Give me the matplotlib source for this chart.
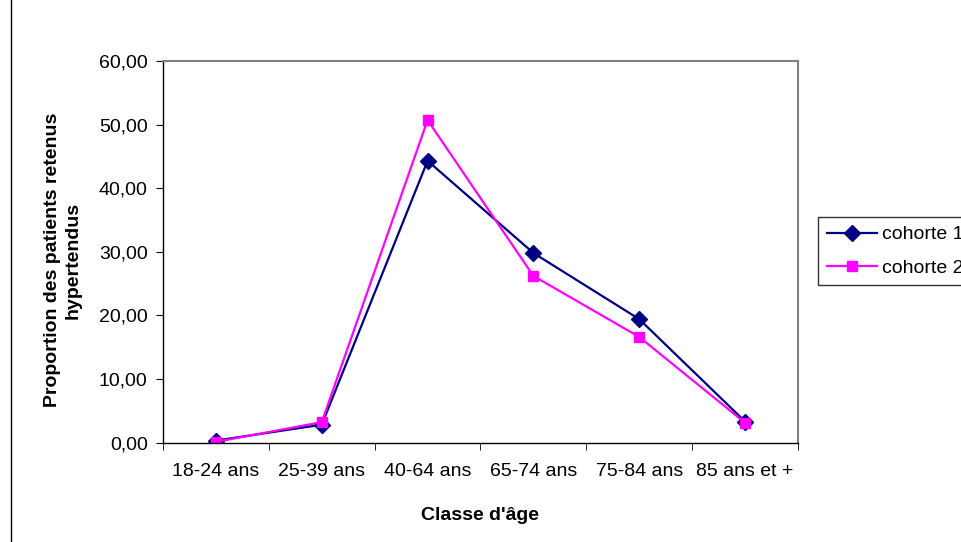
import numpy as np
import matplotlib
matplotlib.use('Agg')
from matplotlib import pyplot as plt
from matplotlib.lines import Line2D

plt.rcParams['font.family'] = ['Liberation Sans', 'DejaVu Sans']

categories = ['18-24 ans', '25-39 ans', '40-64 ans', '65-74 ans', '75-84 ans', '85 ans et +']
cohorte1 = [0.3, 2.8, 44.3, 29.8, 19.4, 3.3]
cohorte2 = [0.1, 3.2, 50.7, 26.2, 16.6, 3.1]
yticks = [0, 10, 20, 30, 40, 50, 60]

fs = 14

fig = plt.figure(figsize=(9.62, 5.42), dpi=100)
ax = fig.add_axes([163/962, 1-442.5/542, (798-163)/962, (442.5-61)/542])

x = np.arange(len(categories))
ax.plot(x, cohorte1, color='#000080', lw=1.6, marker='D', ms=8.5, label='cohorte 1')
ax.plot(x, cohorte2, color='#FF00FF', lw=1.6, marker='s', ms=7.5, label='cohorte 2')

ax.set_xlim(-0.5, len(categories)-0.5)
ax.set_ylim(0, 60)
ax.set_yticks(yticks)
ax.set_yticklabels([f'{v:.2f}'.replace('.', ',') for v in yticks], fontsize=fs)
ax.set_xticks(x)
ax.set_xticklabels(categories, fontsize=fs)
ax.set_xticks(np.arange(len(categories)+1)-0.5, minor=True)
ax.tick_params(axis='x', which='major', length=0, pad=15)
ax.tick_params(axis='x', which='minor', length=5, direction='out', color='black')
ax.tick_params(axis='y', length=5, direction='out', color='black', pad=6)

for s in ['top', 'right']:
    ax.spines[s].set_color('#808080')
    ax.spines[s].set_linewidth(1.5)
for s in ['left', 'bottom']:
    ax.spines[s].set_color('black')
    ax.spines[s].set_linewidth(1.0)

ax.set_xlabel("Classe d'âge", fontsize=fs, fontweight='bold', labelpad=19)
ax.set_ylabel('Proportion des patients retenus\nhypertendus', fontsize=fs,
              fontweight='bold', labelpad=12, linespacing=1.25)
ax.yaxis.set_label_coords(-0.128, 0.478)

leg = fig.legend(loc='upper left', bbox_to_anchor=(818/962, 1-217/542),
                 fontsize=fs, frameon=True, fancybox=False, edgecolor='black',
                 handlelength=2.6, borderpad=0.45, labelspacing=0.8, handletextpad=0.25,
                 borderaxespad=0)
leg.get_frame().set_linewidth(1.0)

fig.add_artist(Line2D([11/962, 11/962], [0, 1], color='black', lw=1.0))

fig.savefig('out.png', dpi=100)
